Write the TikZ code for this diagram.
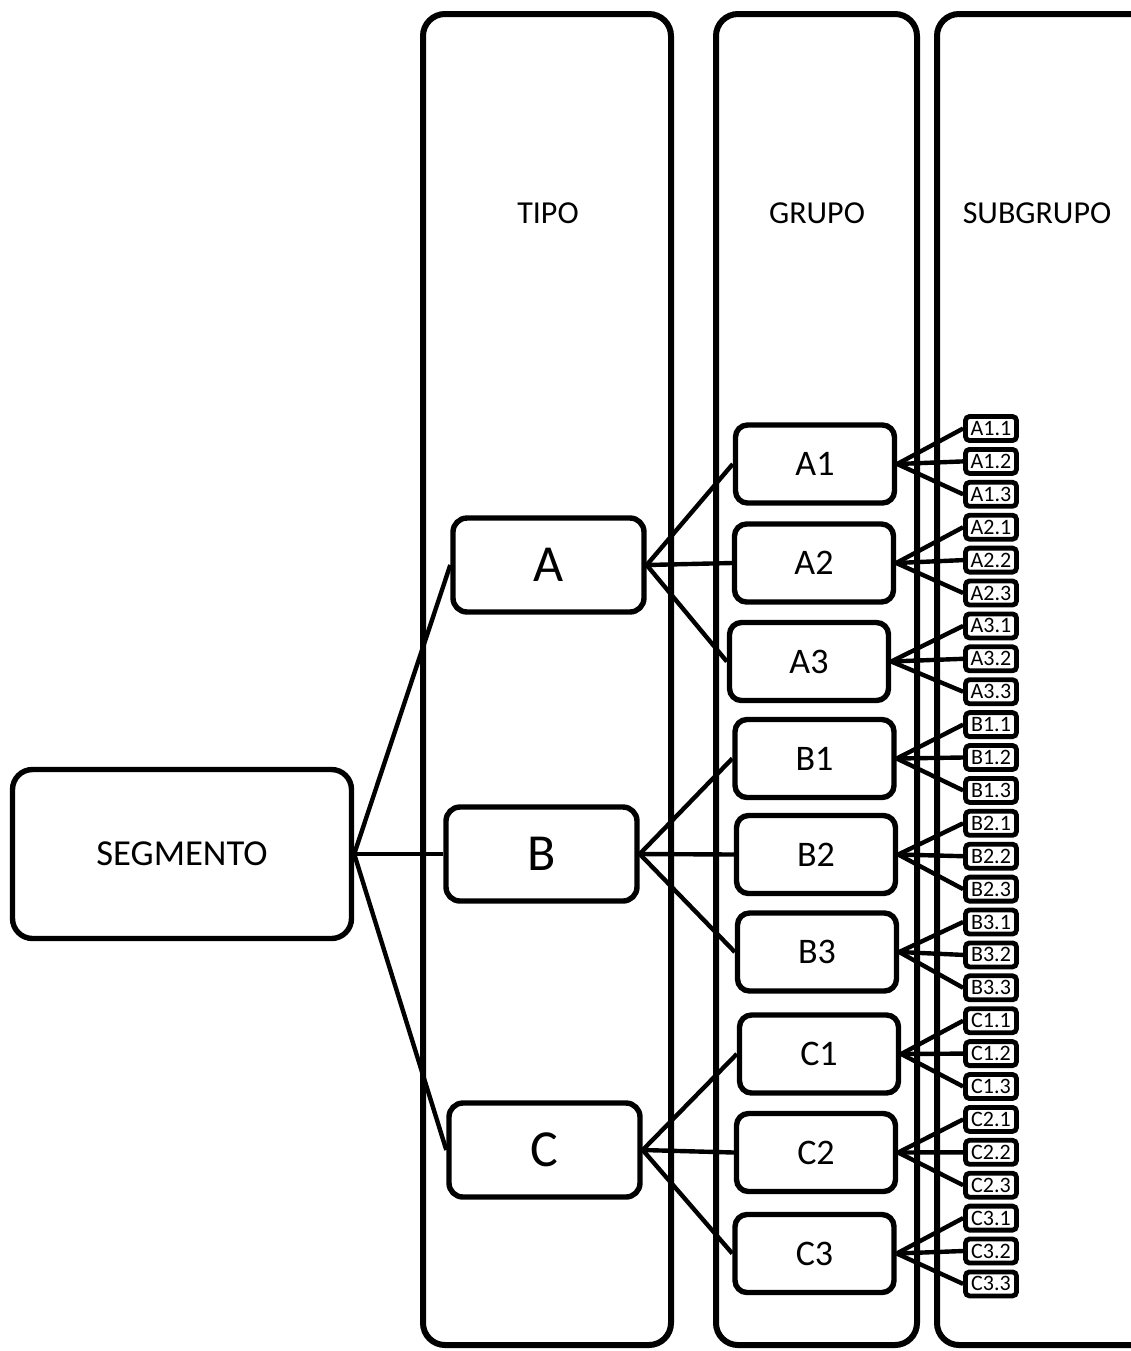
\documentclass[tikz,border=0pt]{standalone}
\usepackage{fontspec}
\setmainfont{Carlito}
\begin{document}
\begin{tikzpicture}[x=0.5pt,y=-0.5pt,
  col/.style={draw, line width=3pt, rounded corners=11pt, inner sep=0pt, minimum height=665.5pt},
  colline/.style={line width=3pt, rounded corners=11pt},
  lbl/.style={font=\fontsize{16}{19}\selectfont, inner sep=0pt},
  segbox/.style={draw, line width=2.7pt, rounded corners=10pt, inner sep=0pt, minimum width=169.5pt, minimum height=84.5pt, font=\fontsize{18.3}{22}\selectfont},
  topbox/.style={draw, line width=2.7pt, rounded corners=7pt, inner sep=0pt, minimum width=95.5pt, minimum height=47pt, font=\fontsize{26}{30}\selectfont},
  grpbox/.style={draw, line width=2.7pt, rounded corners=6pt, inner sep=0pt, minimum width=79.5pt, minimum height=39pt, font=\fontsize{18}{22}\selectfont},
  subbox/.style={draw, line width=2.4pt, rounded corners=2pt, inner sep=0pt, minimum width=25.5pt, minimum height=12pt, font=\fontsize{11}{12}\selectfont},
  link/.style={line width=2.2pt}]
\useasboundingbox (0,0) rectangle (1131,1351);
\clip (0,0) rectangle (1131,1351);

% columns
\node[col, minimum width=124pt] (coltipo) at (547,679.5) {};
\node[col, minimum width=100.5pt] (colgrupo) at (816.5,679.5) {};
\draw[colline] (1145,14) -- (937,14) -- (937,1345) -- (1145,1345);
\node[lbl] (ltipo) at (548,213) {TIPO};
\node[lbl] (lgrupo) at (817,213) {GRUPO};
\node[lbl] (lsub) at (1037,213) {SUBGRUPO};

% segment
\node[segbox, fill=white] (seg) at (182,854) {SEGMENTO};

% types
\node[topbox, fill=white] (A) at (548.5,565) {A};
\node[topbox, fill=white] (B) at (541.5,854) {B};
\node[topbox, fill=white] (C) at (544.5,1150) {C};

% groups
\node[grpbox, fill=white] (A1) at (815,464) {A1};
\node[grpbox, fill=white] (A2) at (814,563) {A2};
\node[grpbox, fill=white] (A3) at (809,661.5) {A3};
\node[grpbox, fill=white] (B1) at (814.5,758.5) {B1};
\node[grpbox, fill=white] (B2) at (816,854.5) {B2};
\node[grpbox, fill=white] (B3) at (817,952) {B3};
\node[grpbox, fill=white] (C1) at (819,1054) {C1};
\node[grpbox, fill=white] (C2) at (816,1152.5) {C2};
\node[grpbox, fill=white] (C3) at (814.5,1253.5) {C3};

% links segment -> types
\foreach \t in {A,B,C}{ \draw[link] (seg.east) -- (\t.west); }
% links types -> groups
\foreach \t in {A,B,C}{
  \foreach \n in {1,2,3}{ \draw[link] (\t.east) -- (\t\n.west); }
}
% subgroups
\foreach \g [count=\k from 0] in {A1,A2,A3,B1,B2,B3,C1,C2,C3}{
  \foreach \j in {1,2,3}{
    \pgfmathsetmacro\yy{428.5+32.9*(3*\k+\j-1)}
    \node[subbox, fill=white] (\g-\j) at (991,\yy) {\g.\j};
    \draw[link] (\g.east) -- (\g-\j.west);
  }
}
\end{tikzpicture}
\end{document}
